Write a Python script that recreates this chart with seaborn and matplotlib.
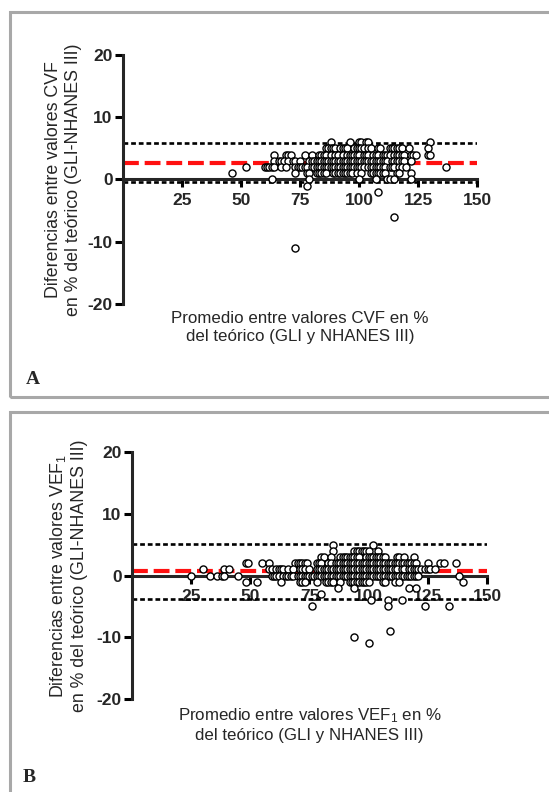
import numpy as np
import pandas as pd
import seaborn as sns
from matplotlib import pyplot as plt
from matplotlib.patches import Rectangle

# Panel A: CVF, x = promedio (% teórico), grouped by difference value
cvf_x_p6 = [88, 96, 100, 101, 103, 104, 130]
cvf_x_p5 = [86, 87, 88, 89, 90, 92, 93, 94, 95, 98, 99, 100, 101, 102, 104, 105,
            108, 109, 113, 114, 115, 116, 117, 118, 121, 129]
cvf_x_p4 = [64, 69, 70, 71, 77, 80, 83, 84, 85, 86, 88, 90, 91, 93, 95, 96, 97, 98,
            99, 100, 102, 103, 104, 106, 107, 108, 110, 111, 112, 113, 115, 116, 117,
            118, 119, 122, 123, 124, 129, 130]
cvf_x_p3 = [64, 66, 67, 68, 70, 72, 73, 75, 79, 80, 81, 82, 83, 84, 85, 86, 87, 88,
            89, 90, 91, 92, 93, 94, 95, 96, 97, 98, 99, 100, 101, 102, 103, 104, 105,
            106, 107, 108, 109, 110, 111, 112, 114, 115, 116, 117, 118, 119, 122]
cvf_x_p2 = [52, 60, 61, 62, 63, 64, 67, 69, 73, 74, 75, 76, 77, 78, 80, 81, 82, 83,
            84, 85, 86, 87, 88, 89, 90, 91, 92, 93, 94, 95, 96, 97, 98, 99, 100, 101,
            102, 104, 105, 106, 107, 108, 109, 110, 111, 113, 114, 115, 117, 118, 120, 137]
cvf_x_p1 = [46, 73, 78, 79, 82, 83, 84, 85, 86, 89, 90, 91, 92, 93, 94, 95, 96, 97,
            99, 101, 105, 106, 107, 108, 109, 110, 111, 116, 117, 122]
cvf_x_0 = [63, 79, 100, 107, 112, 113, 115, 122]
cvf_x_m1 = [78]
cvf_x_m2 = [108]
cvf_x_m6 = [115]
cvf_x_m11 = [73]
cvf_mean_diff = 2.7
cvf_limits = [5.9, -0.4]

# Panel B: VEF1
vef_x_p5 = [85, 102]
vef_x_p4 = [85, 94, 95, 96, 97, 98, 99, 100, 104]
vef_x_p3 = [80, 81, 84, 88, 89, 90, 91, 92, 93, 94, 95, 96, 99, 100, 101, 102, 103,
            104, 105, 106, 107, 112, 113, 115, 119]
vef_x_p2 = [48, 49, 55, 58, 69, 70, 71, 72, 73, 74, 78, 79, 80, 83, 84, 86, 87, 88,
            89, 90, 91, 92, 93, 94, 95, 96, 97, 98, 99, 100, 101, 102, 103, 104, 105,
            106, 107, 108, 109, 110, 111, 112, 113, 114, 115, 116, 117, 118, 119, 120,
            125, 130, 132, 137]
vef_x_p1 = [30, 39, 41, 58, 59, 61, 62, 63, 64, 66, 68, 71, 72, 73, 75, 78, 79, 80,
            81, 82, 83, 84, 85, 86, 87, 88, 89, 90, 91, 92, 93, 94, 95, 96, 97, 98, 99,
            100, 101, 102, 103, 104, 105, 106, 107, 108, 109, 110, 111, 112, 114, 115,
            117, 118, 119, 120, 121, 122, 124, 125, 126, 128]
vef_x_0 = [25, 33, 36, 38, 39, 45, 59, 60, 61, 62, 64, 65, 66, 67, 68, 70, 71, 72, 73,
           74, 75, 76, 77, 78, 79, 80, 81, 82, 83, 84, 85, 86, 87, 88, 89, 90, 91, 92,
           93, 94, 95, 96, 97, 98, 99, 100, 101, 102, 103, 104, 105, 106, 107, 108,
           109, 110, 111, 112, 113, 114, 115, 116, 117, 118, 119, 120, 121, 138]
vef_x_m1 = [48, 53, 63, 71, 72, 73, 78, 82, 83, 84, 85, 88, 92, 93, 94, 95, 96, 97,
            98, 99, 100, 106, 107, 111, 113, 140]
vef_x_m2 = [87, 94, 117, 120]
vef_x_m3 = [80]
vef_x_m4 = [101, 108, 114]
vef_x_m5 = [76, 108, 124, 134]
vef_x_m9 = [109]
vef_x_m10 = [94]
vef_x_m11 = [100]
vef_mean_diff = 0.7
vef_limits = [5.1, -3.8]

x_ticks = [25, 50, 75, 100, 125, 150]
y_ticks = [-20, -10, 0, 10, 20]


def make_df(groups):
    rows = []
    for d, xs in groups:
        for x in xs:
            rows.append((x, d))
    return pd.DataFrame(rows, columns=["promedio", "diferencia"])


cvf = make_df([(6, cvf_x_p6), (5, cvf_x_p5), (4, cvf_x_p4), (3, cvf_x_p3),
               (2, cvf_x_p2), (1, cvf_x_p1), (0, cvf_x_0), (-1, cvf_x_m1),
               (-2, cvf_x_m2), (-6, cvf_x_m6), (-11, cvf_x_m11)])
vef = make_df([(5, vef_x_p5), (4, vef_x_p4), (3, vef_x_p3), (2, vef_x_p2),
               (1, vef_x_p1), (0, vef_x_0), (-1, vef_x_m1), (-2, vef_x_m2),
               (-3, vef_x_m3), (-4, vef_x_m4), (-5, vef_x_m5), (-9, vef_x_m9),
               (-10, vef_x_m10), (-11, vef_x_m11)])

sns.set_style("ticks")
plt.rcParams["font.family"] = ["Liberation Sans", "DejaVu Sans"]
plt.rcParams["mathtext.fontset"] = "custom"
plt.rcParams["mathtext.rm"] = "Liberation Sans"
plt.rcParams["mathtext.default"] = "regular"
plt.rcParams["axes.unicode_minus"] = False

fig = plt.figure(figsize=(5.49, 7.92), dpi=100)

# grey frames around the two panels
fig.add_artist(Rectangle((0.018, 0.499), 1.0, 0.486, transform=fig.transFigure,
                         fill=False, edgecolor="#a8a8a8", linewidth=2.2, clip_on=False))
fig.add_artist(Rectangle((0.018, -0.05), 1.0, 0.53, transform=fig.transFigure,
                         fill=False, edgecolor="#a8a8a8", linewidth=2.2, clip_on=False))

ax_a = fig.add_axes([0.224, 0.6162, 0.645, 0.3144])
ax_b = fig.add_axes([0.2404, 0.1174, 0.6466, 0.3119])

panels = [
    (ax_a, cvf, cvf_mean_diff, cvf_limits,
     "Diferencias entre valores CVF\nen % del teórico (GLI-NHANES III)",
     "Promedio entre valores CVF en %\ndel teórico (GLI y NHANES III)", -0.116),
    (ax_b, vef, vef_mean_diff, vef_limits,
     "Diferencias entre valores VEF$_1$\nen % del teórico (GLI-NHANES III)",
     "Promedio entre valores VEF$_1$ en %\ndel teórico (GLI y NHANES III)", -0.124),
]

for ax, df, mean_d, lims, ylab, xlab, ylab_x in panels:
    for lim in lims:
        ax.axhline(lim, color="black", linewidth=1.9, linestyle=(0, (1.8, 1.1)), zorder=1)
    ax.axhline(mean_d, color="#ff1010", linewidth=3.0, linestyle=(0, (3.8, 1.4)), zorder=1)
    sns.scatterplot(data=df, x="promedio", y="diferencia", ax=ax, s=26,
                    facecolor="white", edgecolor="black", linewidth=1.0, zorder=3)
    ax.set_xlim(0, 150)
    ax.set_ylim(-20, 20)
    ax.set_xticks(x_ticks)
    ax.set_yticks(y_ticks)
    ax.spines["top"].set_visible(False)
    ax.spines["right"].set_visible(False)
    ax.spines["bottom"].set_position(("data", 0))
    ax.spines["left"].set_linewidth(2.2)
    ax.spines["bottom"].set_linewidth(2.2)
    ax.tick_params(axis="both", width=2.2, length=6, labelsize=12.5, color="black")
    ax.tick_params(axis="x", pad=4)
    ax.tick_params(axis="y", pad=1.5)
    for lab in ax.get_xticklabels() + ax.get_yticklabels():
        lab.set_fontweight("bold")
    ax.set_ylabel(ylab, fontsize=12.8)
    ax.yaxis.set_label_coords(ylab_x, 0.5)
    ax.set_xlabel(xlab, fontsize=12.2, va="top")
    ax.xaxis.set_label_coords(0.5, -0.03)

fig.text(0.06, 1 - 380 / 792, "A", fontsize=14, fontweight="bold",
         family="Liberation Serif", ha="center", va="center")
fig.text(0.053, 1 - 778 / 792, "B", fontsize=14, fontweight="bold",
         family="Liberation Serif", ha="center", va="center")

fig.savefig("out.png", dpi=100)
